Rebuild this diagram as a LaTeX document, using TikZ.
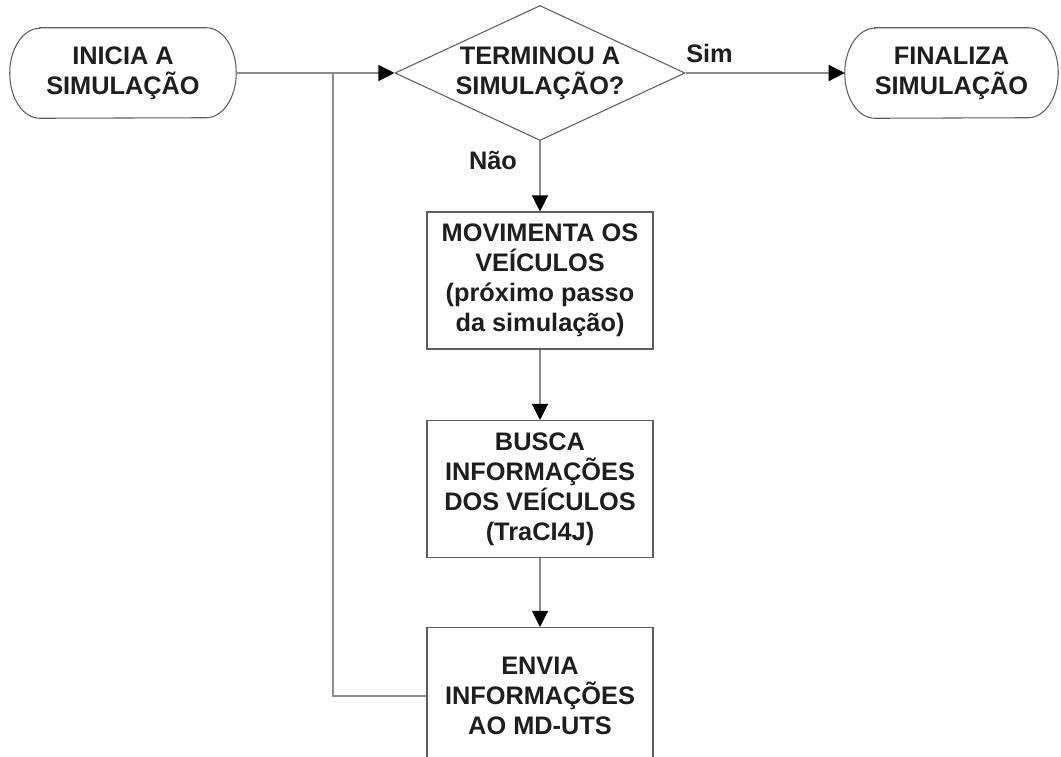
\documentclass[tikz,border=0pt]{standalone}
\usepackage{fontspec}
\setmainfont{Liberation Sans}
\usetikzlibrary{arrows.meta,shapes.geometric}
\definecolor{wire}{HTML}{8C8C8C}
\definecolor{frame}{HTML}{5E5E5E}
\definecolor{ink}{HTML}{1E1E1E}
% outline of a terminator: straight top and bottom, half-elliptic ends
\newcommand{\termoutline}[1]{%
  \draw[frame, line width=0.8pt]
    ([xshift=22.5pt]#1.north west) -- ([xshift=-22.5pt]#1.north east)
    arc[start angle=90, end angle=-90, x radius=22.5pt, y radius=33.75pt]
    -- ([xshift=22.5pt]#1.south west)
    arc[start angle=270, end angle=90, x radius=22.5pt, y radius=33.75pt]
    -- cycle;}
\begin{document}
\begin{tikzpicture}[x=0.75pt,y=-0.75pt,
  every node/.style={font=\fontsize{19}{22.5}\selectfont\bfseries, text=ink, align=center},
  term/.style={rectangle, inner sep=0pt, minimum height=67.5pt},
  proc/.style={rectangle, draw=frame, line width=0.8pt, inner sep=0pt, minimum width=169.5pt, minimum height=102.75pt},
  dec/.style={diamond, draw=frame, line width=0.8pt, inner sep=0pt, shape aspect=2.15, minimum width=217.5pt, minimum height=101.25pt},
  link/.style={draw=wire, line width=0.9pt},
  flow/.style={link, -{Triangle[length=12pt,width=12pt,black]}},
  tag/.style={inner sep=0pt}
]
\clip (0,0) rectangle (1061,757);

% terminals and decision
\node[term, minimum width=169.5pt] (start) at (123,73) {INICIA A\\SIMULAÇÃO};
\termoutline{start}
\node[dec] (test) at (540,73) {TERMINOU A\\SIMULAÇÃO?};
\node[term, minimum width=159.75pt] (stop) at (951.5,73) {FINALIZA\\SIMULAÇÃO};
\termoutline{stop}

% process steps
\node[proc] (move) at (540,280.5) {MOVIMENTA OS\\VEÍCULOS\\(próximo passo\\da simulação)};
\node[proc] (fetch) at (540,489) {BUSCA\\INFORMAÇÕES\\DOS VEÍCULOS\\(TraCI4J)};
\node[proc] (send) at (540,696) {ENVIA\\INFORMAÇÕES\\AO MD-UTS};

% branch labels
\node[tag] (yes) at (709.5,53) {Sim};
\node[tag] (no) at (493,160) {Não};

% connectors
\coordinate (join) at (333,73);
\draw[flow] (start) -- (test);
\draw[flow] (test) -- (stop);
\draw[flow] (test) -- (move);
\draw[flow] (move) -- (fetch);
\draw[flow] (fetch) -- (send);
\draw[link] (send.west) -| (join);
\end{tikzpicture}
\end{document}
